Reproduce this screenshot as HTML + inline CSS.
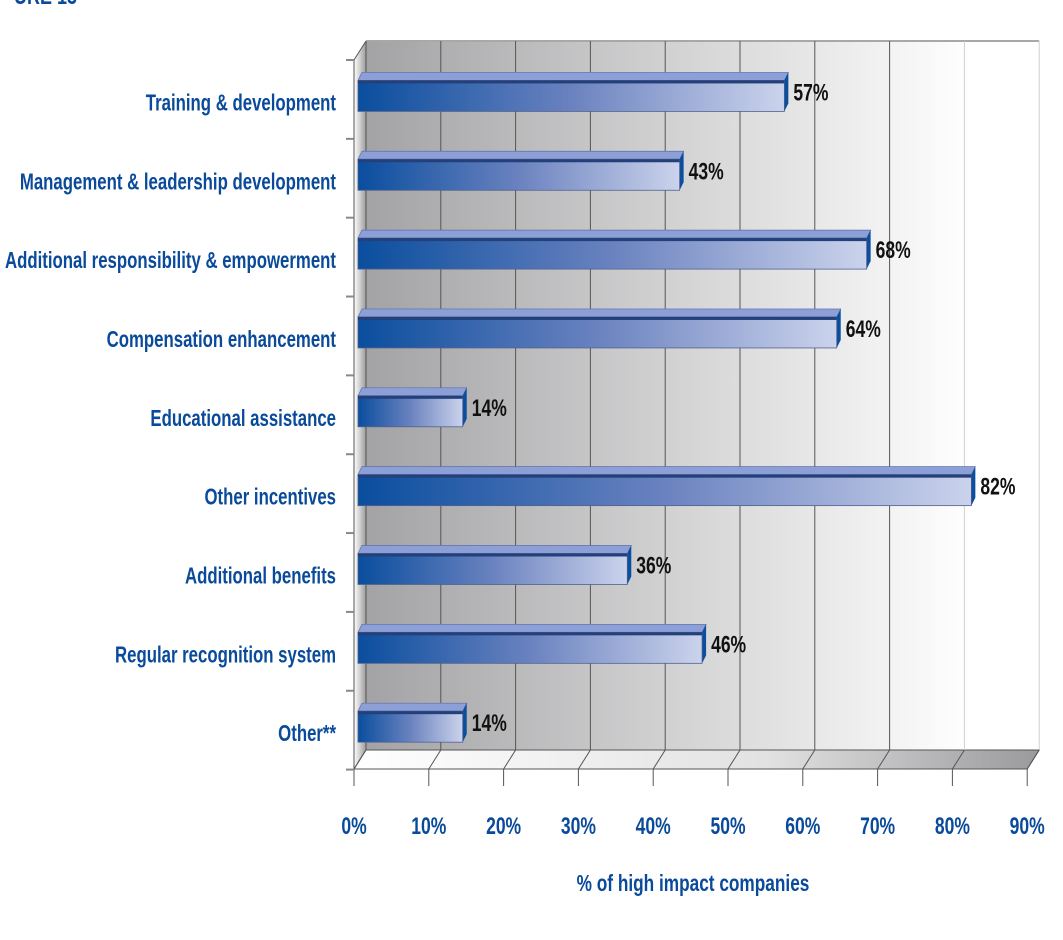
<!DOCTYPE html>
<html><head><meta charset="utf-8"><style>
html,body{margin:0;padding:0;background:#fff;}
svg{display:block;font-family:"Liberation Sans",sans-serif;}
</style></head><body>
<svg id="chart" width="1063" height="940" viewBox="0 0 1063 940" xmlns="http://www.w3.org/2000/svg">
<defs>
<linearGradient id="wall" x1="0" x2="1" y1="0" y2="0"><stop offset="0" stop-color="#a3a3a5"/><stop offset="0.55" stop-color="#dcdcdd"/><stop offset="0.9" stop-color="#ffffff"/><stop offset="1" stop-color="#ffffff"/></linearGradient>
<linearGradient id="floor" x1="0" x2="1" y1="0" y2="0"><stop offset="0" stop-color="#ffffff"/><stop offset="0.6" stop-color="#e2e2e3"/><stop offset="1" stop-color="#9a9a9c"/></linearGradient>
<linearGradient id="side" x1="0" x2="1"><stop offset="0" stop-color="#ffffff"/><stop offset="1" stop-color="#9c9c9e"/></linearGradient>
<linearGradient id="barg" x1="0" x2="1"><stop offset="0" stop-color="#0a4e9e"/><stop offset="0.5" stop-color="#6a82bf"/><stop offset="1" stop-color="#cbd3ec"/></linearGradient>
</defs>
<text transform="translate(14,4) scale(0.75,1)" font-size="24" font-weight="bold" fill="#0a4a9a">URE 13</text>
<g id="frame"></g>
<g id="bars"></g>
<g id="labels"></g>
<text transform="translate(693,891) scale(0.75,1)" text-anchor="middle" font-size="23" font-weight="bold" fill="#0a4a9a">% of high impact companies</text>
</svg>
<script>
const categories=["Training & development","Management & leadership development","Additional responsibility & empowerment","Compensation enhancement","Educational assistance","Other incentives","Additional benefits","Regular recognition system","Other**"];
const values=[57,43,68,64,14,82,36,46,14];
const tickValues=[0,10,20,30,40,50,60,70,80,90];
const tickLabels=["0%","10%","20%","30%","40%","50%","60%","70%","80%","90%"];
const NS="http://www.w3.org/2000/svg";
const X0=354, PX=7.48, DX=12, DY=-19, TOP=60, BOT=769, SX=0.73;
const xs=v=>X0+v*PX;
const rowH=(BOT-TOP+0.6)/categories.length;
const yc=i=>TOP+rowH*(i+0.5)-4;
function mk(tag,attrs,parent){const e=document.createElementNS(NS,tag);for(const k in attrs)e.setAttribute(k,attrs[k]);parent.appendChild(e);return e;}
const frame=document.getElementById('frame'),bars=document.getElementById('bars'),labels=document.getElementById('labels');
const xmax=xs(90);
let w=mk('rect',{x:X0+DX,y:TOP+DY,width:xmax-X0,height:BOT-TOP,fill:'url(#wall)'},frame);

mk('line',{x1:X0+DX,y1:TOP+DY,x2:xmax+DX,y2:TOP+DY,stroke:'#a8a8a8','stroke-width':2},frame);
mk('polygon',{points:`${X0},${TOP} ${X0+DX},${TOP+DY} ${X0+DX},${BOT+DY} ${X0},${BOT}`,fill:'url(#side)'},frame);
let f=mk('polygon',{points:`${X0},${BOT} ${X0+DX},${BOT+DY} ${xmax+DX},${BOT+DY} ${xmax},${BOT}`,fill:'url(#floor)',stroke:'#555','stroke-width':1},frame);

tickValues.forEach((t,i)=>{
  const x=xs(t);
  const g=mk('line',{x1:x+DX,y1:TOP+DY,x2:x+DX,y2:BOT+DY,stroke:t>=80?'#cfcfcf':'#555','stroke-width':1},frame);
  
  mk('line',{x1:x,y1:BOT,x2:x+DX,y2:BOT+DY,stroke:'#555','stroke-width':1},frame);
  mk('line',{x1:x,y1:BOT,x2:x,y2:BOT+17,stroke:'#555','stroke-width':1},frame);
  const tl=mk('text',{transform:`translate(${x},834) scale(${SX},1)`,'text-anchor':'middle','font-size':24,'font-weight':'bold',fill:'#0a4a9a'},labels);
  tl.textContent=tickLabels[i];
  
});
mk('line',{x1:X0,y1:TOP,x2:X0,y2:BOT,stroke:'#555','stroke-width':1},frame);
mk('line',{x1:X0,y1:TOP,x2:X0+DX,y2:TOP+DY,stroke:'#555','stroke-width':1},frame);
for(let i=0;i<=categories.length;i++){
  const y=TOP+rowH*i;
  mk('line',{x1:X0-8,y1:y,x2:X0,y2:y,stroke:'#888','stroke-width':2},frame);
}
categories.forEach((c,i)=>{
  const y=yc(i), x1=X0+4, x2=xs(values[i])+4, h=31, top=y-15;
  const g=mk('g',{},bars);
  
  
  mk('polygon',{points:`${x1},${top} ${x1+4},${top-8} ${x2+4},${top-8} ${x2},${top}`,fill:'#8c9fd6',stroke:'#5d6fa8','stroke-width':0.7},g);
  mk('polygon',{points:`${x2},${top} ${x2+4},${top-8} ${x2+4},${top+h-8} ${x2},${top+h}`,fill:'#0a4e9e'},g);
  mk('rect',{x:x1,y:top,width:x2-x1,height:h,fill:'url(#barg)',stroke:'#50618f','stroke-width':0.8},g);
  mk('rect',{x:x1,y:top,width:x2-x1,height:3,fill:'#23407a'},g);
  const vl=mk('text',{transform:`translate(${x2+9},${y+5}) scale(${SX},1)`,'font-size':24,'font-weight':'bold',fill:'#111'},labels);
  vl.textContent=values[i]+'%';
  
  const cl=mk('text',{transform:`translate(336,${y+15}) scale(${SX},1)`,'text-anchor':'end','font-size':23,'font-weight':'bold',fill:'#0a4a9a'},labels);
  cl.textContent=c;
  
});
</script>
</body></html>
